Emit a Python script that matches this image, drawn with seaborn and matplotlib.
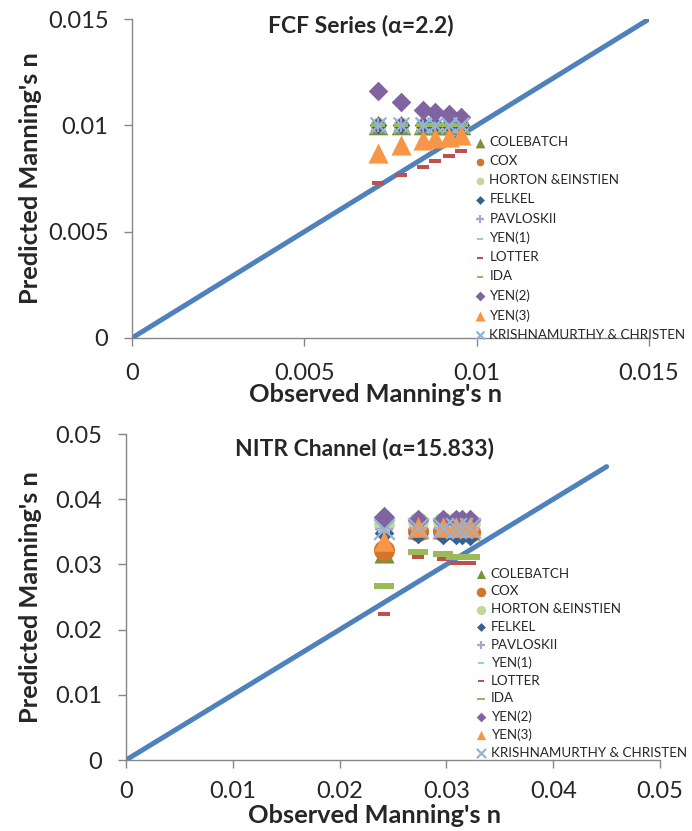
import matplotlib
matplotlib.use("Agg")
import matplotlib.pyplot as plt
import seaborn as sns
import pandas as pd

sns.set_style("white")
plt.rcParams['font.family'] = ['Lato', 'DejaVu Sans']

# series names and colours (legend order)
names = ['COLEBATCH', 'COX', 'HORTON &EINSTIEN', 'FELKEL', 'PAVLOSKII', 'YEN(1)',
         'LOTTER', 'IDA', 'YEN(2)', 'YEN(3)', 'KRISHNAMURTHY & CHRISTEN']
colors = ['#77933C', '#D2762C', '#C3D69B', '#376092', '#B3A2C7', '#93CDDD',
          '#C0504D', '#9BBB59', '#8064A2', '#F79646', '#95B3D7']

# ---- FCF series (alpha = 2.2) ----
fcf_obs = [0.00715, 0.0078, 0.00845, 0.0088, 0.0092, 0.00955]
fcf_colebatch = [0.0100, 0.0100, 0.0100, 0.0100, 0.0100, 0.0100]
fcf_cox = [0.0100, 0.0100, 0.0100, 0.0100, 0.0100, 0.0100]
fcf_horton = [0.0100, 0.0100, 0.0100, 0.0100, 0.0100, 0.0100]
fcf_felkel = [0.0100, 0.0100, 0.0100, 0.0100, 0.0100, 0.0100]
fcf_pavloskii = [0.0100, 0.0100, 0.0100, 0.0100, 0.0100, 0.0100]
fcf_yen1 = [0.0100, 0.0100, 0.0100, 0.0100, 0.0100, 0.0100]
fcf_lotter = [0.00727, 0.00766, 0.00803, 0.00832, 0.00854, 0.00879]
fcf_ida = [0.0100, 0.0100, 0.0100, 0.0100, 0.0100, 0.0100]
fcf_yen2 = [0.01163, 0.01111, 0.01072, 0.01064, 0.01052, 0.01041]
fcf_yen3 = [0.0087, 0.00907, 0.00931, 0.00939, 0.00947, 0.00955]
fcf_krish = [0.0100, 0.0100, 0.0100, 0.0100, 0.0100, 0.0100]
fcf_line = [0, 0.015]

# ---- NITR channel (alpha = 15.833) ----
nitr_obs = [0.0242, 0.0273, 0.0297, 0.0309, 0.0315, 0.0322]
nitr_colebatch = [0.0318, 0.0355, 0.0355, 0.0354, 0.0354, 0.0353]
nitr_cox = [0.0322, 0.0352, 0.0352, 0.0351, 0.0351, 0.0350]
nitr_horton = [0.0362, 0.0365, 0.0365, 0.0365, 0.0364, 0.0364]
nitr_felkel = [0.0348, 0.0346, 0.0345, 0.0345, 0.0345, 0.0344]
nitr_pavloskii = [0.0355, 0.0356, 0.0356, 0.0356, 0.0356, 0.0356]
nitr_yen1 = [0.0352, 0.0356, 0.0356, 0.0356, 0.0356, 0.0356]
nitr_lotter = [0.0224, 0.0311, 0.0308, 0.0302, 0.0302, 0.0302]
nitr_ida = [0.0267, 0.0319, 0.0316, 0.0312, 0.0311, 0.0311]
nitr_yen2 = [0.0373, 0.0368, 0.0368, 0.0368, 0.0368, 0.0368]
nitr_yen3 = [0.0336, 0.0357, 0.0357, 0.0357, 0.0357, 0.0357]
nitr_krish = [0.0355, 0.0356, 0.0356, 0.0356, 0.0356, 0.0356]
nitr_line = [0, 0.045]

dash = [(-1, -0.4), (1, -0.4), (1, 0.4), (-1, 0.4), (-1, -0.4)]
wide_dash = [(-1, -0.3), (1, -0.3), (1, 0.3), (-1, 0.3), (-1, -0.3)]
markers = ['^', 'o', 'o', 'D', '+', dash, dash, wide_dash, 'D', '^', 'x']


def draw(ax, obs, series, line, sizes, lim, ticks, title, title_xy, xlab_xy, ylab_xy,
         legend_xy, mscale, lspace, xpad):
    sns.lineplot(x=line, y=line, ax=ax, color='#4F81BD', linewidth=3.6, zorder=1)
    for name, vals, col, mk, sz in zip(names, series, colors, markers, sizes):
        df = pd.DataFrame({'obs': obs, 'pred': vals})
        lw = 1.6 if mk in ('+', 'x') else 0
        sns.scatterplot(data=df, x='obs', y='pred', ax=ax, color=col, marker=mk,
                        s=sz, linewidth=lw, edgecolor=col if lw == 0 else None,
                        label=name, zorder=3)
    ax.set_xlim(0, lim)
    ax.set_ylim(0, lim)
    ax.set_xticks(ticks)
    ax.set_yticks(ticks)
    ax.set_xticklabels([f'{t:g}' for t in ticks])
    ax.set_yticklabels([f'{t:g}' for t in ticks])
    ax.tick_params(axis='both', length=6, width=1, color='#868686', labelsize=17,
                   direction='out', bottom=True, left=True)
    ax.tick_params(axis='y', pad=11)
    ax.tick_params(axis='x', pad=xpad)
    sns.despine(ax=ax)
    for sp in ('left', 'bottom'):
        ax.spines[sp].set_color('#868686')
        ax.spines[sp].set_linewidth(1)
    ax.set_xlabel("Observed Manning's n", fontsize=18.3, fontweight='bold')
    ax.set_ylabel("Predicted Manning's n", fontsize=18.3, fontweight='bold')
    ax.xaxis.set_label_coords(*xlab_xy)
    ax.yaxis.set_label_coords(*ylab_xy)
    ax.text(title_xy[0], title_xy[1], title, transform=ax.transAxes, ha='center',
            va='center', fontsize=16.5, fontweight='bold')
    ax.legend(loc='upper left', bbox_to_anchor=legend_xy, bbox_transform=ax.figure.transFigure,
              frameon=False, fontsize=9.6, markerscale=mscale, handlelength=0.8,
              handletextpad=0.3, labelspacing=lspace, borderpad=0, borderaxespad=0)


fig = plt.figure(figsize=(6.92, 8.31), dpi=100)
ax1 = fig.add_axes([0.1908, 0.5933, 0.7471, 0.3838])
ax2 = fig.add_axes([0.1821, 0.0854, 0.7717, 0.3923])

fcf_series = [fcf_colebatch, fcf_cox, fcf_horton, fcf_felkel, fcf_pavloskii, fcf_yen1,
              fcf_lotter, fcf_ida, fcf_yen2, fcf_yen3, fcf_krish]
nitr_series = [nitr_colebatch, nitr_cox, nitr_horton, nitr_felkel, nitr_pavloskii, nitr_yen1,
               nitr_lotter, nitr_ida, nitr_yen2, nitr_yen3, nitr_krish]

fcf_sizes = [200, 120, 120, 80, 110, 60, 70, 100, 100, 210, 130]
nitr_sizes = [210, 230, 220, 100, 150, 70, 75, 200, 120, 220, 220]

draw(ax1, fcf_obs, fcf_series, fcf_line, fcf_sizes, 0.015, [0, 0.005, 0.01, 0.015],
     'FCF Series (α=2.2)', (0.443, 0.981), (0.47, -0.14), (-0.174, 0.5),
     (0.686, 0.836), 0.5, 0.53, 12)
draw(ax2, nitr_obs, nitr_series, nitr_line, nitr_sizes, 0.05, [0, 0.01, 0.02, 0.03, 0.04, 0.05],
     'NITR Channel (α=15.833)', (0.446, 0.957), (0.466, -0.135), (-0.157, 0.5),
     (0.688, 0.317), 0.45, 0.43, 9)

fig.savefig('out.png', dpi=100)
